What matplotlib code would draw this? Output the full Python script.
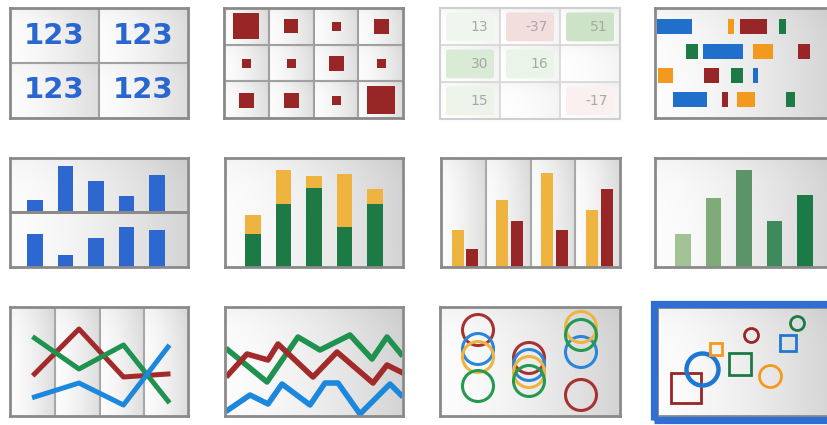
import numpy as np
import matplotlib
matplotlib.use("Agg")
import matplotlib.pyplot as plt
from matplotlib.patches import Rectangle, FancyBboxPatch

W, H = 827, 425

# ---------------- data ----------------
tile_text = ["123", "123", "123", "123"]

square_sizes = [[27, 14, 9, 15],
                [9, 9, 15, 9],
                [15, 15, 9, 28]]

table_values = [[13, -37, 51],
                [30, 16, None],
                [15, None, -17]]

gantt_rows = [0, 1, 2, 3]
gantt_blue = [(2, 35), (48, 40), (98, 5), (18, 34)]
gantt_orange = [(73, 6), (98, 20), (3, 15), (82, 18)]
gantt_red = [(85, 27), (143, 12), (49, 15), (67, 6)]
gantt_green = [(124, 7), (31, 12), (76, 12), (131, 9)]

multiples_top = [12, 46, 31, 16, 37]
multiples_bottom = [33, 12, 29, 40, 37]

stack_green = [33, 63, 79, 40, 63]
stack_yellow = [19, 34, 12, 53, 15]

group_yellow = [37, 67, 94, 57]
group_red = [18, 46, 37, 78]

shade_values = [33, 69, 97, 46, 72]

line_cats = [0, 1, 2, 3]
line_red = [42, 87, 39, 42]
line_green = [78, 47, 71, 15]
line_blue = [19, 33, 11, 69]

zig_green_x = [3, 42, 73, 95, 125, 147, 162, 176]
zig_green_y = [66, 34, 79, 66, 81, 57, 79, 62]
zig_red_x = [3, 22, 43, 53, 88, 112, 148, 162, 176]
zig_red_y = [41, 62, 56, 72, 39, 64, 33, 51, 44]
zig_blue_x = [3, 25, 43, 57, 85, 100, 113, 135, 165, 176]
zig_blue_y = [6, 21, 12, 32, 11, 33, 33, 2, 32, 21]

ring_x = [38, 89, 141]
ring_red = [86, 58, 21]
ring_blue = [67, 51, 64]
ring_yellow = [59, 44, 89]
ring_green = [30, 35, 81]

sc_x = [29, 45, 59, 83, 94, 113, 131, 140]
sc_y = [28, 47, 67, 52, 81, 40, 73, 93]
sc_size = [30, 32, 12, 22, 14, 22, 16, 14]
sc_shape = ["s", "o", "s", "s", "o", "o", "s", "o"]
sc_color = ["red", "blue", "orange", "green", "red", "orange", "blue", "green"]

# ---------------- style ----------------
C = {"blue": "#1f6fcb", "orange": "#f39a1e", "red": "#982626",
     "green": "#1d7a45", "yellow": "#efb43f"}
LINE_C = {"red": "#a32a2a", "green": "#1f9250", "blue": "#1c88dd"}
BORDER = "#8a8a8a"
PX = 0.72  # points per pixel at dpi 100

fig = plt.figure(figsize=(W / 100, H / 100), dpi=100)
fig.patch.set_facecolor("white")


def rect(x0, y0, x1, y1):
    return [x0 / W, 1 - y1 / H, (x1 - x0) / W, (y1 - y0) / H]


def background(r, ncols=1, nrows=1, lo=0.83, hi=0.99, z=0):
    bg = fig.add_axes(r, zorder=z)
    h, w = 120, 240
    u = np.linspace(0, 1, w)
    uu = (u * ncols) % 1.0
    v = np.linspace(0, 1, h)
    vv = (v * nrows) % 1.0
    val = hi - (hi - lo) * (uu[None, :] ** 1.5) - 0.035 * np.exp(-vv[:, None] * 6)
    img = np.clip(np.dstack([val, val, val]), 0, 1)
    bg.imshow(img, aspect="auto", extent=[0, 1, 0, 1], interpolation="bilinear")
    bg.set_axis_off()
    return bg


def panel(x0, y0, x1, y1, color=BORDER, lw=2.0, z=1):
    ax = fig.add_axes(rect(x0, y0, x1, y1), zorder=z)
    ax.patch.set_alpha(0)
    ax.set_xticks([])
    ax.set_yticks([])
    for s in ax.spines.values():
        s.set_color(color)
        s.set_linewidth(lw)
    return ax


# ---- Panel 1: number tiles ----
r1 = (10, 8, 188, 118)
background(rect(*r1), ncols=2, nrows=2, lo=0.87)
ax = panel(*r1)
ax.set_xlim(0, 2)
ax.set_ylim(0, 2)
ax.axvline(1, color="#a0a0a0", lw=1.5)
ax.axhline(1, color="#a0a0a0", lw=1.5)
for i, t in enumerate(tile_text):
    ax.text(i % 2 + 0.5, 1.5 - i // 2, t, ha="center", va="center",
            fontsize=21, fontweight="bold", color="#2a66d0", family="DejaVu Sans")

# ---- Panel 2: square grid ----
r2 = (224, 8, 403, 118)
background(rect(*r2), ncols=4, nrows=3, lo=0.87)
ax = panel(*r2)
ax.set_xlim(0, 4)
ax.set_ylim(3, 0)
for k in range(1, 4):
    ax.axvline(k, color="#a0a0a0", lw=1.5)
for k in range(1, 3):
    ax.axhline(k, color="#a0a0a0", lw=1.5)
for r, row in enumerate(square_sizes):
    for c, s in enumerate(row):
        ax.plot(c + 0.5, r + 0.5, marker="s", ms=s * PX, color=C["red"],
                markeredgewidth=0)

# ---- Panel 3: faded table ----
r3 = (440, 8, 620, 119)
background(rect(*r3), ncols=3, nrows=3, lo=0.96, hi=1.0)
ax = panel(*r3, color="#cfcfcf", lw=1.5)
ax.set_xlim(0, 3)
ax.set_ylim(3, 0)
for k in range(1, 3):
    ax.axvline(k, color="#d6d6d6", lw=1.2)
    ax.axhline(k, color="#d6d6d6", lw=1.2)
for r, row in enumerate(table_values):
    for c, v in enumerate(row):
        if v is None:
            continue
        base = np.array([0.80, 0.89, 0.78]) if v > 0 else np.array([0.95, 0.86, 0.86])
        a = min(1.0, abs(v) / 40.0)
        col = 1 - (1 - base) * a
        ax.add_patch(FancyBboxPatch((c + 0.1, r + 0.12), 0.8, 0.78,
                                    boxstyle="round,pad=0,rounding_size=0.06",
                                    fc=col, ec="none"))
        ax.text(c + 0.8, r + 0.52, str(v), ha="right", va="center",
                fontsize=10, color="#a8a8a8")

# ---- Panel 4: timeline ----
r4 = (655, 8, 835, 118)
background(rect(*r4))
ax = panel(*r4)
ax.set_xlim(0, 180)
ax.set_ylim(3.75, -0.78)
for series, key in [(gantt_blue, "blue"), (gantt_orange, "orange"),
                    (gantt_red, "red"), (gantt_green, "green")]:
    ax.barh(gantt_rows, [w for _, w in series], left=[s for s, _ in series],
            height=0.62, color=C[key], lw=0)

# ---- Panel 5: small multiples ----
bx = np.arange(5)
background(rect(10, 158, 188, 267))
ax = panel(10, 158, 188, 212)
ax.set_xlim(-0.82, 5.02)
ax.set_ylim(0, 54)
ax.bar(bx, multiples_top, width=0.5, color="#2d68d0", lw=0)
ax = panel(10, 212, 188, 267)
ax.set_xlim(-0.82, 5.02)
ax.set_ylim(0, 55)
ax.bar(bx, multiples_bottom, width=0.5, color="#2d68d0", lw=0)

# ---- Panel 6: stacked bars ----
r6 = (225, 158, 403, 267)
background(rect(*r6))
ax = panel(*r6)
ax.set_xlim(-0.92, 4.92)
ax.set_ylim(0, 109)
ax.bar(bx, stack_green, width=0.5, color=C["green"], lw=0)
ax.bar(bx, stack_yellow, bottom=stack_green, width=0.5, color=C["yellow"], lw=0)

# ---- Panel 7: grouped bars ----
r7 = (441, 158, 620, 267)
background(rect(*r7), ncols=4, lo=0.87)
ax = panel(*r7)
ax.set_xlim(0, 4)
ax.set_ylim(0, 109)
for k in range(1, 4):
    ax.axvline(k, color="#a8a8a8", lw=1.5)
gx = np.arange(4)
ax.bar(gx + 0.37, group_yellow, width=0.27, color=C["yellow"], lw=0)
ax.bar(gx + 0.70, group_red, width=0.27, color=C["red"], lw=0)

# ---- Panel 8: shaded bars ----
r8 = (655, 158, 835, 267)
background(rect(*r8))
ax = panel(*r8)
ax.set_xlim(-0.92, 4.98)
ax.set_ylim(0, 109)
ax.bar(bx, shade_values, width=0.5,
       color=["#a2c396", "#7eab78", "#5c9468", "#3f8a5c", "#1b7a46"], lw=0)

# ---- Panel 9: line chart with columns ----
r9 = (10, 307, 188, 416)
background(rect(*r9), ncols=4, lo=0.87)
ax = panel(*r9)
ax.set_xlim(-0.55, 3.45)
ax.set_ylim(0, 109)
for k in range(3):
    ax.axvline(k + 0.47, color="#a8a8a8", lw=1.5)
ax.plot(line_cats, line_red, color=LINE_C["red"], lw=3.6, solid_joinstyle="round")
ax.plot(line_cats, line_green, color=LINE_C["green"], lw=3.6, solid_joinstyle="round")
ax.plot(line_cats, line_blue, color=LINE_C["blue"], lw=3.6, solid_joinstyle="round")

# ---- Panel 10: zigzag lines ----
r10 = (225, 307, 403, 416)
background(rect(*r10))
ax = panel(*r10)
ax.set_xlim(0, 178)
ax.set_ylim(0, 109)
ax.plot(zig_green_x, zig_green_y, color=LINE_C["green"], lw=4, solid_joinstyle="round")
ax.plot(zig_red_x, zig_red_y, color=LINE_C["red"], lw=4, solid_joinstyle="round")
ax.plot(zig_blue_x, zig_blue_y, color=LINE_C["blue"], lw=4, solid_joinstyle="round")

# ---- Panel 11: ring stacks ----
r11 = (440, 307, 620, 416)
background(rect(*r11))
ax = panel(*r11)
ax.set_xlim(0, 180)
ax.set_ylim(0, 109)
RING_C = {"red": "#a83232", "blue": "#2a86d8", "yellow": "#efb43f", "green": "#239a50"}
for ys, key in [(ring_red, "red"), (ring_blue, "blue"),
                (ring_yellow, "yellow"), (ring_green, "green")]:
    ax.scatter(ring_x, ys, s=(31 * PX) ** 2, facecolors="none",
               edgecolors=RING_C[key], linewidths=2.2)

# ---- Panel 12: selected scatter ----
fig.patches.append(Rectangle((653.5 / W, 1 - 419.5 / H), 200 / W, 116 / H,
                             transform=fig.transFigure, fill=False,
                             ec="#2f6fd3", lw=5.2, zorder=3))
r12 = (657, 307, 835, 416)
background(rect(*r12))
ax = panel(*r12)
ax.set_xlim(0, 178)
ax.set_ylim(0, 109)
for x, y, s, m, c in zip(sc_x, sc_y, sc_size, sc_shape, sc_color):
    lw = 3.2 if (c == "blue" and m == "o") else 2.0
    ax.plot(x, y, marker=m, ms=s * PX, mfc="none",
            mec=C[c] if c != "blue" else "#1e78d2", mew=lw)

fig.savefig("out.png", dpi=100)
